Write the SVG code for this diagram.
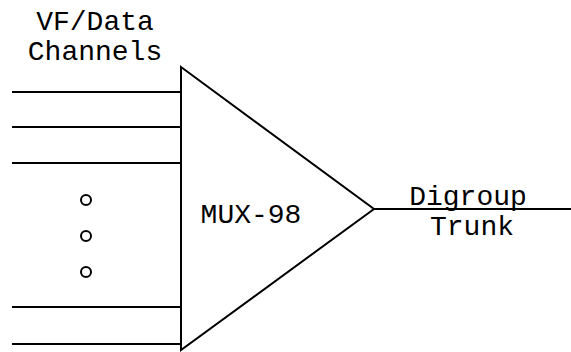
<svg xmlns="http://www.w3.org/2000/svg" width="571" height="352" viewBox="0 0 571 352">
<style>
.t{font-family:"Liberation Mono","Courier New",monospace;font-size:28px;fill:#000;text-anchor:middle}
.l{stroke:#000;stroke-width:2;fill:none}
</style>
<rect width="571" height="352" fill="#fff"/>
<g id="labels">
<text class="t" x="95" y="30">VF/Data</text>
<text class="t" x="95" y="60">Channels</text>
</g>
<g id="mux">
<polygon class="l" points="181,67 374,209 181,350"/>
<text class="t" x="251" y="223">MUX-98</text>
</g>
<g id="connectors">
<line class="l" x1="12" y1="92" x2="181" y2="92"/>
<line class="l" x1="12" y1="127" x2="181" y2="127"/>
<line class="l" x1="12" y1="163" x2="181" y2="163"/>
<line class="l" x1="12" y1="307" x2="181" y2="307"/>
<line class="l" x1="12" y1="344" x2="181" y2="344"/>
<line class="l" x1="374" y1="209" x2="571" y2="209"/>
</g>
<g id="dots">
<circle class="l" cx="86" cy="200" r="5"/>
<circle class="l" cx="86" cy="236" r="5"/>
<circle class="l" cx="86" cy="272" r="5"/>
</g>
<g id="trunk">
<text class="t" x="468" y="205">Digroup</text>
<text class="t" x="472" y="235">Trunk</text>
</g>
</svg>
